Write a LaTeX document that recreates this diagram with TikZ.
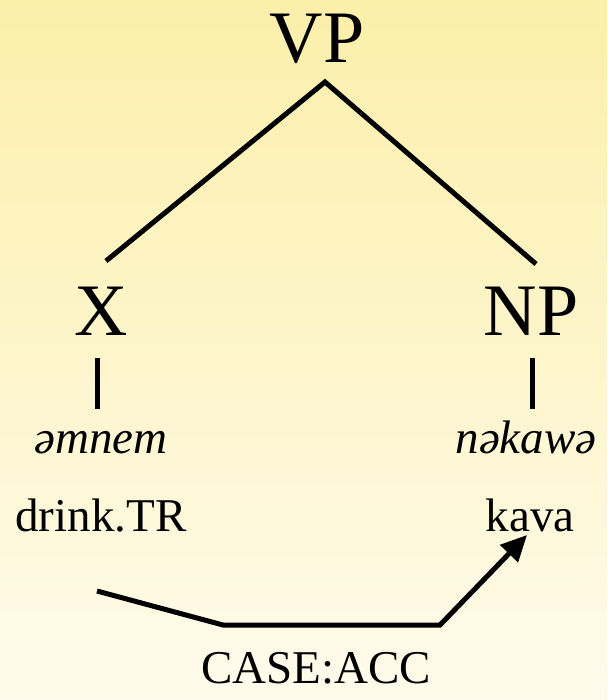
\documentclass[tikz,border=0pt]{standalone}
\usepackage{fontspec}
\setmainfont{Liberation Serif}
\usetikzlibrary{positioning,arrows.meta}

\definecolor{slidetop}{RGB}{252,239,170}
\definecolor{slidebottom}{RGB}{255,251,236}

\tikzset{
    big/.style = {inner sep=0pt, anchor=base, font=\fontsize{74}{88}\selectfont},
    small/.style = {inner sep=0pt, anchor=base, font=\fontsize{47}{56}\selectfont},
    branch/.style = {line width=5pt},
}

\begin{document}
\begin{tikzpicture}[x=1pt, y=-1pt]
            \fill[top color=slidetop, bottom color=slidebottom] (0,0) rectangle (607,700);
            \useasboundingbox (0,0) rectangle (607,700);
            \node[big] (vp) at (317,63) {VP};
            \node[big] (x) at (101,335) {X};
            \node[big] (np) at (531,335) {NP};
            \node[small] (verb) at (101,453) {\itshape əmnem};
            \node[small] (noun) at (526,453) {\itshape nəkawə};
            \node[small] (vgloss) at (101,531) {drink.TR};
            \node[small] (ngloss) at (530,531) {kava};
            \node[small] (case) at (316,683) {CASE:ACC};
            \coordinate (top) at (325,82);
            \coordinate (xtop) at (106,261);
            \coordinate (nptop) at (536,264);
            \coordinate (xbar) at (97,358);
            \coordinate[below=51pt of xbar] (xbarend);
            \coordinate (npbar) at (532,358);
            \coordinate[below=51pt of npbar] (npbarend);
            \coordinate (start) at (97,591);
            \coordinate (bendl) at (223,625);
            \coordinate (bendr) at (440,625);
            \coordinate (tip) at (527,535);
            %tree
            \draw[branch] (xtop) -- (top) -- (nptop);
            \draw[branch] (xbar) -- (xbarend);
            \draw[branch] (npbar) -- (npbarend);
            %case arrow
            \draw[branch, -{Triangle[length=26pt, width=24pt]}] (start) -- (bendl) -- (bendr) -- (tip);
\end{tikzpicture}
\end{document}
